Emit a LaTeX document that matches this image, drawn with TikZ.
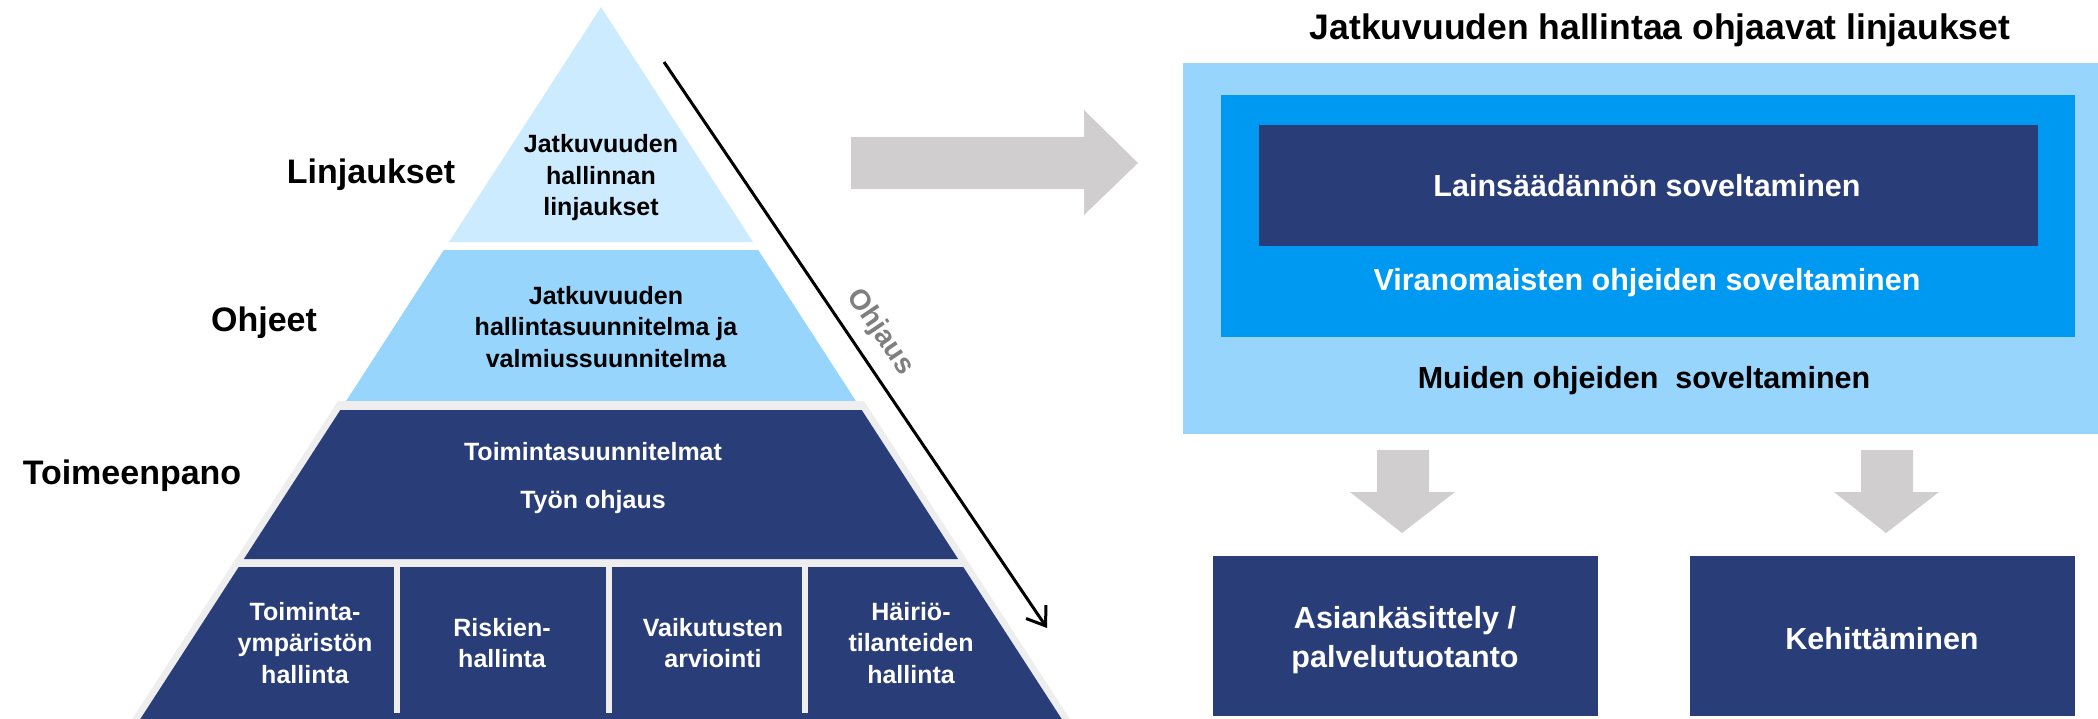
\documentclass[tikz,border=0pt]{standalone}
\usepackage{fontspec}
\setmainfont{Liberation Sans}
\usetikzlibrary{arrows.meta,calc}
\definecolor{navy}{HTML}{293D79}
\definecolor{paleblue}{HTML}{CCEBFE}
\definecolor{skyblue}{HTML}{97D5FD}
\definecolor{brightblue}{HTML}{0099F2}
\definecolor{arrowgray}{HTML}{D0CECE}
\definecolor{rimgray}{HTML}{EEEEEE}
\definecolor{labelgray}{HTML}{7F7F7F}

\begin{document}
\begin{tikzpicture}[x=1pt,y=-1pt,
  tiertext/.style={font=\bfseries\fontsize{25}{31.5}\selectfont, align=center, inner sep=0pt},
  darktext/.style={tiertext, text=white},
  levellabel/.style={font=\bfseries\fontsize{34}{40}\selectfont, inner sep=0pt},
  boxtext/.style={font=\bfseries\fontsize{30.5}{39}\selectfont, align=center, inner sep=0pt},
  blockarrow/.style={fill=arrowgray},
  divider/.style={draw=rimgray, line width=6pt}]
\useasboundingbox (0,0) rectangle (2098,718);
\clip (0,0) rectangle (2098,718);

% ---------- pyramid ----------
\fill[paleblue] (601,7) -- (753,242) -- (449,242) -- cycle;
\fill[skyblue] (443.8,250) -- (758.2,250) -- (855.9,401) -- (346.1,401) -- cycle;
\fill[rimgray] (338,401) -- (864,401) -- (1077,730) -- (125,730) -- cycle;
\fill[navy] (340.3,410) -- (861.7,410) -- (958.1,559) -- (243.9,559) -- cycle;
\fill[navy] (238.7,567) -- (963.3,567) -- (1068.8,730) -- (133.2,730) -- cycle;
\draw[divider] (397,567) -- (397,713);
\draw[divider] (609,567) -- (609,713);
\draw[divider] (805,567) -- (805,713);

\node[tiertext] (t1) at (601,178) {Jatkuvuuden\\hallinnan\\linjaukset};
\node[tiertext] (t2) at (606,327) {Jatkuvuuden\\hallintasuunnitelma ja\\valmiussuunnitelma};
\node[darktext] (t3a) at (593,452) {Toimintasuunnitelmat};
\node[darktext] (t3b) at (593,502) {Työn ohjaus};
\node[darktext] (t4a) at (305,643) {Toiminta-\\ympäristön\\hallinta};
\node[darktext] (t4b) at (502,643) {Riskien-\\hallinta};
\node[darktext] (t4c) at (713,643) {Vaikutusten\\arviointi};
\node[darktext] (t4d) at (911,643) {Häiriö-\\tilanteiden\\hallinta};

\node[levellabel] (lvl1) at (371,175) {Linjaukset};
\node[levellabel] (lvl2) at (264,323) {Ohjeet};
\node[levellabel] (lvl3) at (132,476) {Toimeenpano};

% ---------- steering arrow ----------
\coordinate (ohjStart) at (664,62);
\coordinate (ohjEnd) at (1047,628);
\draw[line width=3pt, -{Straight Barb[length=17pt,width=24pt]}] (ohjStart) -- (ohjEnd);
\node[font=\bfseries\fontsize{28.5}{32}\selectfont, text=labelgray, rotate=-56, inner sep=0pt]
  (ohjaus) at (880,332) {Ohjaus};

% ---------- block arrow to the right ----------
\fill[blockarrow] (851,137) -- (1084,137) -- (1084,110) -- (1138,163)
  -- (1084,215) -- (1084,189) -- (851,189) -- cycle;

% ---------- nested policy boxes ----------
\node[font=\bfseries\fontsize{35.5}{40}\selectfont, inner sep=0pt] (title) at (1660,30)
  {Jatkuvuuden hallintaa ohjaavat linjaukset};
\fill[skyblue] (1183,63) rectangle (2110,434);
\fill[brightblue] (1221,95) rectangle (2075,337);
\fill[navy] (1259,125) rectangle (2038,246);
\node[boxtext, text=white] (law) at (1647,186) {Lainsäädännön soveltaminen};
\node[boxtext, text=white] (auth) at (1647,283) {Viranomaisten ohjeiden soveltaminen};
\node[boxtext] (other) at (1644,381) {Muiden ohjeiden\ \ soveltaminen};

% ---------- down arrows ----------
\fill[blockarrow] (1377,450) -- (1429,450) -- (1429,492) -- (1455,492) -- (1402,533)
  -- (1350,492) -- (1377,492) -- cycle;
\fill[blockarrow] (1861,450) -- (1913,450) -- (1913,492) -- (1939,492) -- (1886,533)
  -- (1834,492) -- (1861,492) -- cycle;

% ---------- outcome boxes ----------
\fill[navy] (1213,556) rectangle (1598,716);
\fill[navy] (1690,556) rectangle (2075,716);
\node[boxtext, text=white] (case) at (1405,640) {Asiankäsittely /\\palvelutuotanto};
\node[boxtext, text=white] (dev) at (1882,639) {Kehittäminen};
\end{tikzpicture}
\end{document}
